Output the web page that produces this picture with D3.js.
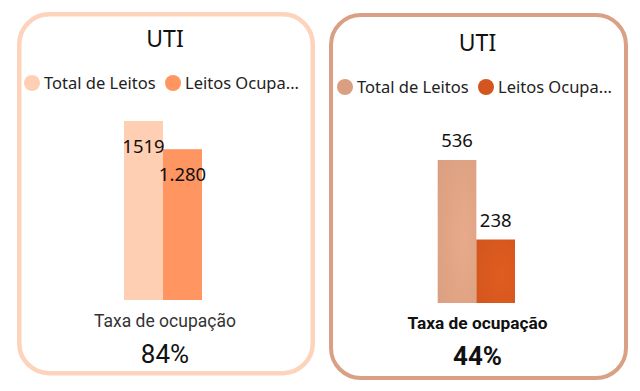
<!DOCTYPE html>
<html lang="pt">
  <head>
    <meta charset="UTF-8" />
    <title>UTI - Taxa de ocupação</title>
    <script src="https://d3js.org/d3.v7.min.js"></script>
    <style>
      body {
        margin: 0;
        background: #fff;
      }
      svg {
        display: block;
      }
    </style>
  </head>
  <body>
    <svg id="chart"></svg>
    <script>
      // data
      const categories = ["Total de Leitos", "Leitos Ocupados"];
      const legendLabels = ["Total de Leitos", "Leitos Ocupa..."];
      const titles = ["UTI", "UTI"];
      const leftValues = [1519, 1280];
      const rightValues = [536, 238];
      const leftLabels = ["1519", "1.280"];
      const rightLabels = ["536", "238"];
      const rateTitle = "Taxa de ocupação";
      const rates = ["84%", "44%"];

      const width = 640;
      const height = 391;

      const svg = d3
        .select("#chart")
        .attr("width", width)
        .attr("height", height)
        .attr("viewBox", [0, 0, width, height]);

      const defs = svg.append("defs");

      // layout for each card
      const cards = [
        {
          title: titles[0],
          values: leftValues,
          labels: leftLabels,
          rate: rates[0],
          box: { x: 19.25, y: 14.25, w: 293.5, h: 359, stroke: "#FDD3BC", sw: 4.5 },
          titleY: 47,
          legendY: 83,
          legendX: [32, 173],
          bars: [124, 202],
          barBottom: 300,
          barTop: 121,
          colors: ["#FFCFB4", "#FF9661"],
          gradient: false,
          labelInside: true,
          rateTitleY: 327,
          rateY: 363,
          bold: false,
        },
        {
          title: titles[1],
          values: rightValues,
          labels: rightLabels,
          rate: rates[1],
          box: { x: 331, y: 15, w: 295, h: 363, stroke: "#D9A085", sw: 4 },
          titleY: 51,
          legendY: 87,
          legendX: [345, 486],
          bars: [437.7, 515],
          barBottom: 303,
          barTop: 160,
          colors: ["#DA9F81", "#D3561E"],
          gradient: true,
          labelInside: false,
          rateTitleY: 329,
          rateY: 365,
          bold: true,
        },
      ];

      cards.forEach((c, ci) => {
        const g = svg.append("g");
        const cx = c.box.x + c.box.w / 2;

        g.append("rect")
          .attr("x", c.box.x)
          .attr("y", c.box.y)
          .attr("width", c.box.w)
          .attr("height", c.box.h)
          .attr("rx", 30)
          .attr("fill", "#fff")
          .attr("stroke", c.box.stroke)
          .attr("stroke-width", c.box.sw);

        g.append("text")
          .attr("x", cx - 1)
          .attr("y", c.titleY)
          .attr("text-anchor", "middle")
          .style("font", "23px 'Noto Sans', sans-serif")
          .attr("fill", "#111")
          .text(c.title);

        // legend
        const legend = g
          .selectAll("g.legend")
          .data(categories)
          .join("g")
          .attr("class", "legend")
          .attr("transform", (d, i) => `translate(${c.legendX[i]},${c.legendY})`);

        legend
          .append("circle")
          .attr("r", 8)
          .attr("fill", (d, i) => c.colors[i]);

        legend
          .append("text")
          .attr("x", 12)
          .attr("y", 6)
          .style("font", "16.5px 'Noto Sans', sans-serif")
          .attr("fill", "#222")
          .text((d, i) => legendLabels[i]);

        // bars
        const x = d3.scaleBand().domain(categories).range(c.bars).padding(0);
        const y = d3
          .scaleLinear()
          .domain([0, d3.max(c.values)])
          .range([c.barBottom, c.barTop]);

        if (c.gradient) {
          c.colors.forEach((col, i) => {
            const grad = defs
              .append("radialGradient")
              .attr("id", `grad${ci}_${i}`)
              .attr("cx", "65%")
              .attr("cy", "55%")
              .attr("r", "80%");
            grad.append("stop").attr("offset", "0%").attr("stop-color", d3.color(col).brighter(0.18));
            grad.append("stop").attr("offset", "100%").attr("stop-color", col);
          });
        }

        g.selectAll("rect.bar")
          .data(c.values)
          .join("rect")
          .attr("class", "bar")
          .attr("x", (d, i) => x(categories[i]))
          .attr("y", (d) => y(d))
          .attr("width", x.bandwidth())
          .attr("height", (d) => y(0) - y(d))
          .attr("fill", (d, i) => (c.gradient ? `url(#grad${ci}_${i})` : c.colors[i]));

        g.selectAll("text.label")
          .data(c.values)
          .join("text")
          .attr("class", "label")
          .attr("x", (d, i) => x(categories[i]) + x.bandwidth() / 2)
          .attr("y", (d) => (c.labelInside ? y(d) + 32 : y(d) - 13))
          .attr("text-anchor", "middle")
          .style("font", "18.5px 'Noto Sans', sans-serif")
          .attr("fill", "#111")
          .text((d, i) => c.labels[i]);

        g.append("text")
          .attr("x", cx - 1)
          .attr("y", c.rateTitleY)
          .attr("text-anchor", "middle")
          .style("font", `${c.bold ? "bold " : ""}${c.bold ? 17.3 : 17.5}px Roboto, sans-serif`)
          .attr("fill", c.bold ? "#111" : "#333")
          .text(rateTitle);

        g.append("text")
          .attr("x", cx - 1)
          .attr("y", c.rateY)
          .attr("text-anchor", "middle")
          .style("font", `${c.bold ? "bold " : ""}26px Roboto, sans-serif`)
          .attr("fill", "#111")
          .text(c.rate);
      });
    </script>
  </body>
</html>
